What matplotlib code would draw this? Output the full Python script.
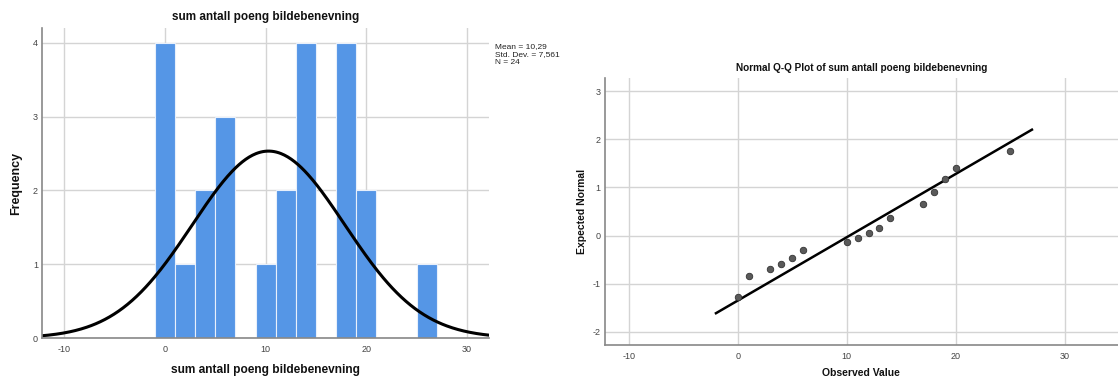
import numpy as np
import matplotlib.pyplot as plt

plt.rcParams['font.family'] = ['Liberation Sans', 'DejaVu Sans']
plt.rcParams['axes.unicode_minus'] = False

# histogram data (bin centres, width 2)
bin_centers = [0, 2, 4, 6, 10, 12, 14, 18, 20, 26]
counts = [4, 1, 2, 3, 1, 2, 4, 4, 2, 1]
bin_width = 2
mean = 10.29
std = 7.561
n = 24

# Q-Q plot data
observed = [0, 1, 3, 4, 5, 6, 10, 11, 12, 13, 14, 17, 18, 19, 20, 25]
expected = [-1.27, -0.83, -0.70, -0.58, -0.47, -0.30, -0.14, -0.04, 0.05,
            0.15, 0.36, 0.65, 0.91, 1.17, 1.40, 1.75]
line_x = [-2, 27]
line_y = [-1.61, 2.20]

title = 'sum antall poeng bildebenevning'
grid_col = '#d4d4d4'
tick_col = '#444444'
text_col = '#111111'

fig = plt.figure(figsize=(11.18, 3.78), dpi=100)


def style_axes(ax):
    for s in ['top', 'right']:
        ax.spines[s].set_visible(False)
    for s in ['left', 'bottom']:
        ax.spines[s].set_color('#888888')
        ax.spines[s].set_linewidth(1.2)
    ax.tick_params(length=0, labelsize=6.5, labelcolor=tick_col)
    ax.tick_params(axis='x', pad=5)
    ax.tick_params(axis='y', pad=3)
    ax.grid(True, color=grid_col, linewidth=1)
    ax.set_axisbelow(True)


# --- histogram with normal curve ---
ax1 = fig.add_axes([0.0376, 0.1058, 0.4, 0.820])
style_axes(ax1)
ax1.bar(bin_centers, counts, width=bin_width, color='#5596e6',
        edgecolor='#e8f0fb', linewidth=0.8)
xs = np.linspace(-12.5, 32.5, 400)
pdf = n * bin_width / (std * np.sqrt(2 * np.pi)) * np.exp(-0.5 * ((xs - mean) / std) ** 2)
ax1.plot(xs, pdf, color='black', linewidth=2.2)
ax1.set_xlim(-12.2, 32.2)
ax1.set_ylim(0, 4.2)
ax1.set_xticks([-10, 0, 10, 20, 30])
ax1.set_yticks([0, 1, 2, 3, 4])
ax1.set_title(title, fontsize=8.5, fontweight='bold', pad=6, color=text_col)
ax1.set_xlabel(title, fontsize=8.6, fontweight='bold', color=text_col, va='center')
ax1.xaxis.set_label_coords(0.5, -0.103)
ax1.set_ylabel('Frequency', fontsize=9, fontweight='bold', color=text_col, va='center')
ax1.yaxis.set_label_coords(-0.058, 0.5)
ax1.text(1.012, 0.95, 'Mean = %s\nStd. Dev. = %s\nN = %d'
         % (str(mean).replace('.', ','), str(std).replace('.', ','), n),
         transform=ax1.transAxes, fontsize=6, va='top', ha='left',
         color='#222222', linespacing=1.1)

# --- Q-Q plot ---
ax2 = fig.add_axes([0.541, 0.0873, 0.459, 0.706])
style_axes(ax2)
ax2.plot(line_x, line_y, color='black', linewidth=1.8)
ax2.scatter(observed, expected, s=22, color='#5a5a5a', edgecolor='#333333',
            linewidth=0.6, zorder=3)
ax2.set_xlim(-12.2, 34.9)
ax2.set_ylim(-2.27, 3.27)
ax2.set_xticks([-10, 0, 10, 20, 30])
ax2.set_yticks([-2, -1, 0, 1, 2, 3])
ax2.set_title('Normal Q-Q Plot of ' + title, fontsize=7.2, fontweight='bold',
              pad=5, color=text_col)
ax2.set_xlabel('Observed Value', fontsize=7.5, fontweight='bold', color=text_col, va='center')
ax2.xaxis.set_label_coords(0.5, -0.105)
ax2.set_ylabel('Expected Normal', fontsize=7.5, fontweight='bold', color=text_col, va='center')
ax2.yaxis.set_label_coords(-0.0448, 0.5)

fig.savefig('out.png', dpi=100)
